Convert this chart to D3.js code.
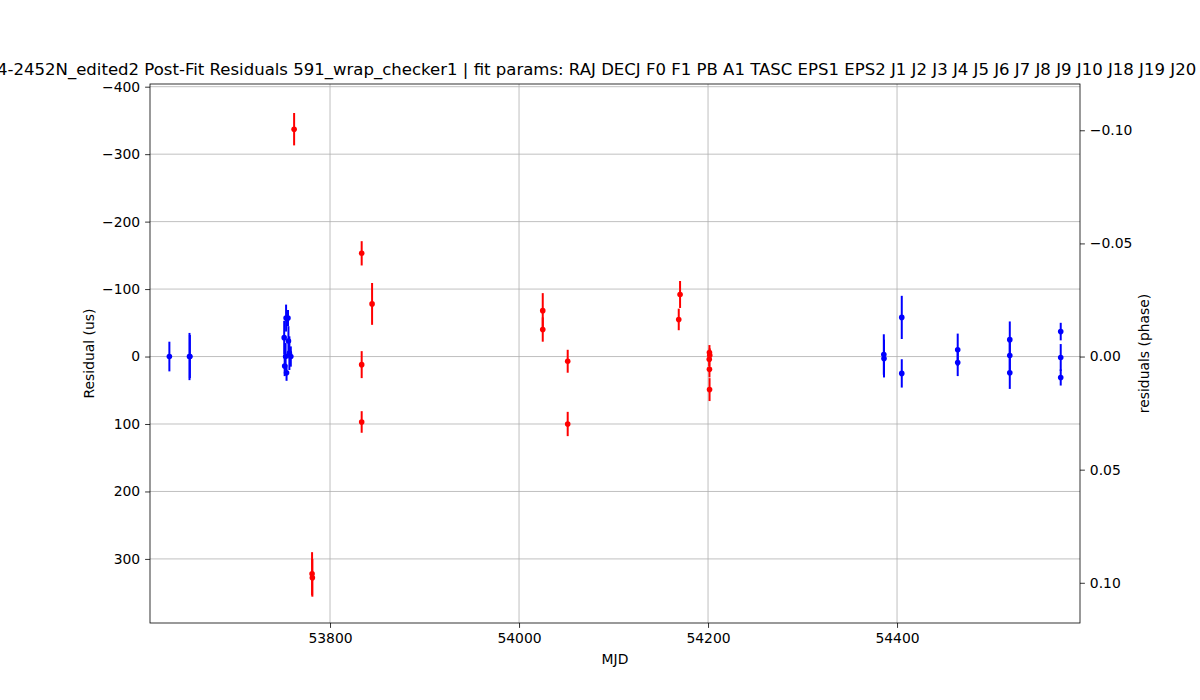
<!DOCTYPE html>
<html>
<head>
<meta charset="utf-8">
<script src="https://cdn.jsdelivr.net/npm/d3@7"></script>
<style>
  body { margin: 0; background: #fff; }
  svg { display: block; font-family: "DejaVu Sans", sans-serif; }
</style>
</head>
<body>
<svg id="chart" width="1200" height="700"></svg>
<script>
// ---- data ----
const titleText = "J1824-2452N_edited2 Post-Fit Residuals 591_wrap_checker1 | fit params: RAJ DECJ F0 F1 PB A1 TASC EPS1 EPS2 J1 J2 J3 J4 J5 J6 J7 J8 J9 J10 J18 J19 J20";
const titleHiddenPrefix = "J182";
const xLabel = "MJD";
const yLabel = "Residual (us)";
const y2Label = "residuals (phase)";

const blueMjd = [53630.0, 53651.3, 53651.7, 53753.5, 53755.5, 53751.5, 53756.0, 53753.0, 53758.5, 53752.0, 53754.0, 53757.0,
                 54386.0, 54386.2, 54405.0, 54405.0, 54464.2, 54464.2, 54519.3, 54519.3, 54519.3, 54573.2, 54573.2, 54573.2];
const blueRes = [0, 0, 0, -57, -57, -28, -23, 0, 0, 14, 24, -5,
                 -3, 3, -58, 25, -10, 9, -25, -1.5, 24, -37, 1.5, 31];
const blueErr = [22, 35, 32, 20, 12, 25, 22, 20, 15, 15, 12, 25,
                 30, 28, 32, 21, 24, 20, 27, 25, 24, 13, 20, 12];

const redMjd = [53762.0, 53833.5, 53844.5, 53833.5, 53833.5, 53781.0, 53781.3, 54025.1, 54025.1, 54051.5, 54051.5,
                54170.4, 54169.0, 54201.5, 54201.8, 54201.3, 54201.5, 54201.6];
const redRes = [-337, -153, -78, 12, 97, 322, 328, -68, -40, 7, 100,
                -92, -55, -6, -2, 4, 19, 49];
const redErr = [24, 18, 31, 20, 16, 32, 28, 26, 18, 17, 18,
                20, 16, 11, 10, 10, 12, 17];

const xTicks = [53800, 54000, 54200, 54400];
const yTicks = [-400, -300, -200, -100, 0, 100, 200, 300];
const y2Ticks = [-0.10, -0.05, 0.00, 0.05, 0.10];

const xDomain = [53609.5, 54593.6];
const yDomain = [-404, 395];
const periodUs = 3354;   // phase = residual / period
const y2Domain = [yDomain[0] / periodUs, yDomain[1] / periodUs];

// ---- layout ----
const svg = d3.select("#chart");
const L = 150, R = 1080, T = 84, B = 623;
const fs = 13.9;
const minus = s => s.replace(/-/g, "\u2212");

const x = d3.scaleLinear().domain(xDomain).range([L, R]);
const y = d3.scaleLinear().domain(yDomain).range([T, B]);
const y2 = d3.scaleLinear().domain(y2Domain).range([T, B]);

// grid
const grid = svg.append("g").attr("stroke", "#b0b0b0").attr("stroke-width", 0.8);
grid.selectAll("line.gx").data(xTicks).join("line")
  .attr("x1", d => x(d)).attr("x2", d => x(d)).attr("y1", T).attr("y2", B);
grid.selectAll("line.gy").data(yTicks).join("line")
  .attr("x1", L).attr("x2", R).attr("y1", d => y(d)).attr("y2", d => y(d));

// data
function series(mjd, res, err, color) {
  const data = mjd.map((m, i) => ({ m, r: res[i], e: err[i] }));
  const g = svg.append("g");
  g.selectAll("line").data(data).join("line")
    .attr("x1", d => x(d.m)).attr("x2", d => x(d.m))
    .attr("y1", d => y(d.r - d.e)).attr("y2", d => y(d.r + d.e))
    .attr("stroke", color).attr("stroke-width", 2);
  g.selectAll("circle").data(data).join("circle")
    .attr("cx", d => x(d.m)).attr("cy", d => y(d.r)).attr("r", 2.8)
    .attr("fill", color);
}
series(blueMjd, blueRes, blueErr, "#0000ff");
series(redMjd, redRes, redErr, "#ff0000");

// axes
function styleAxis(g) {
  g.selectAll("path.domain").remove();
  g.selectAll(".tick line").attr("stroke", "#000").attr("stroke-width", 0.8);
  g.selectAll(".tick text").attr("fill", "#000").style("font-size", fs + "px")
    .style("font-family", "DejaVu Sans, sans-serif");
}
svg.append("g").attr("transform", `translate(0,${B})`)
  .call(d3.axisBottom(x).tickValues(xTicks).tickFormat(d => String(d)).tickSize(4.9).tickPadding(4.9))
  .call(styleAxis);
svg.append("g").attr("transform", `translate(${L},0)`)
  .call(d3.axisLeft(y).tickValues(yTicks).tickFormat(d => minus(String(d))).tickSize(4.9).tickPadding(4.9))
  .call(styleAxis);
svg.append("g").attr("transform", `translate(${R},0)`)
  .call(d3.axisRight(y2).tickValues(y2Ticks).tickFormat(d => minus(d3.format(".2f")(d))).tickSize(4.9).tickPadding(4.9))
  .call(styleAxis);

// spines
svg.append("rect").attr("x", L).attr("y", T).attr("width", R - L).attr("height", B - T)
  .attr("fill", "none").attr("stroke", "#000").attr("stroke-width", 0.8);

// labels
svg.append("text").attr("x", (L + R) / 2).attr("y", 664).attr("text-anchor", "middle")
  .style("font-size", fs + "px").text(xLabel);
svg.append("text").attr("transform", `translate(94,${(T + B) / 2}) rotate(-90)`).attr("text-anchor", "middle")
  .style("font-size", fs + "px").text(yLabel);
svg.append("text").attr("transform", `translate(1149,${(T + B) / 2}) rotate(-90)`).attr("text-anchor", "middle")
  .style("font-size", fs + "px").text(y2Label);

// title: its left part runs off the canvas as in the original; size fitted so the visible part spans the width
const base = 16.67;
const tmp = svg.append("text").style("font-size", base + "px");
tmp.text(titleHiddenPrefix);
const pw0 = tmp.node().getComputedTextLength();
tmp.text(titleText.slice(titleHiddenPrefix.length));
const vw0 = tmp.node().getComputedTextLength();
tmp.remove();
const tfs = base * 1199 / vw0;
const pw = pw0 * tfs / base;
svg.append("text").attr("x", -3 - pw).attr("y", 75).attr("text-anchor", "start")
  .style("font-size", tfs + "px").text(titleText);
</script>
</body>
</html>
